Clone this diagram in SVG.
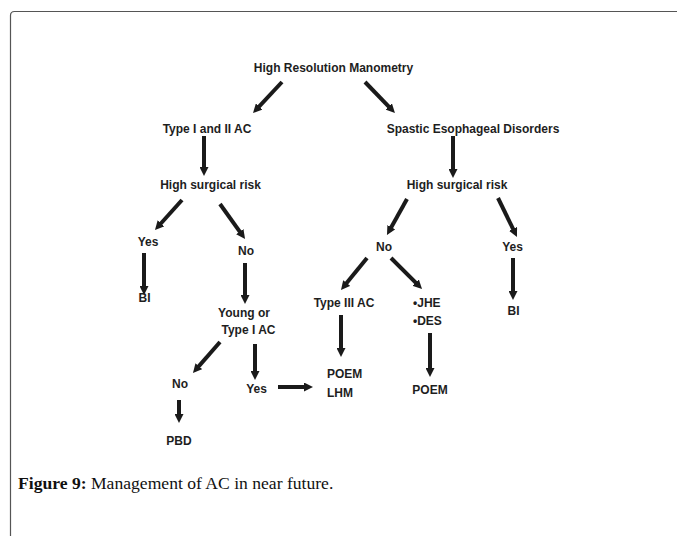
<svg xmlns="http://www.w3.org/2000/svg" width="677" height="536" viewBox="0 0 677 536">
<style>
.t{font-family:"Liberation Sans",Arial,sans-serif;font-weight:bold;font-size:12px;fill:#1e1e1e;text-anchor:middle}
.l{text-anchor:start}
.a{stroke:#1a1a1a;stroke-width:4;fill:none;marker-end:url(#ah)}
.cap{font-family:"Liberation Serif","Times New Roman",serif;font-size:17.6px;fill:#111}
</style>
<defs>
<marker id="ah" viewBox="0 0 10 10" markerWidth="9" markerHeight="9" markerUnits="userSpaceOnUse" refX="4" refY="5" orient="auto">
<path d="M0,0 L10,5 L0,10 z" fill="#1a1a1a"/>
</marker>
</defs>
<rect width="677" height="536" fill="#fff"/>
<path d="M10.5,536 V15.5 Q10.5,11.5 14.5,11.5 H677" fill="none" stroke="#555" stroke-width="1.2"/>
<g id="connectors">
<line class="a" x1="282" y1="82" x2="256.7" y2="109.1"/>
<line class="a" x1="365" y1="82" x2="391.2" y2="109.1"/>
<line class="a" x1="204" y1="136" x2="204" y2="170.6"/>
<line class="a" x1="453" y1="136" x2="453" y2="172.6"/>
<line class="a" x1="182" y1="200" x2="158.6" y2="226"/>
<line class="a" x1="220" y1="204" x2="241.9" y2="234.6"/>
<line class="a" x1="144" y1="253" x2="144" y2="289.6"/>
<line class="a" x1="245" y1="263" x2="245" y2="298.6"/>
<line class="a" x1="220" y1="342" x2="196.5" y2="368.9"/>
<line class="a" x1="255" y1="344" x2="255" y2="374.6"/>
<line class="a" x1="278" y1="387" x2="307.6" y2="387"/>
<line class="a" x1="179" y1="400" x2="179" y2="417.6"/>
<line class="a" x1="407" y1="199" x2="389.6" y2="230.3"/>
<line class="a" x1="498" y1="198" x2="514.6" y2="232.1"/>
<line class="a" x1="367" y1="258" x2="344.4" y2="285.8"/>
<line class="a" x1="391" y1="258" x2="418.2" y2="285.2"/>
<line class="a" x1="341" y1="315" x2="341" y2="351.6"/>
<line class="a" x1="430" y1="333" x2="430" y2="371.6"/>
<line class="a" x1="513" y1="258" x2="513" y2="294.6"/>
</g>
<g id="hrm"><text class="t" x="333.5" y="72">High Resolution Manometry</text></g>
<g id="type12"><text class="t" x="207" y="133">Type I and II AC</text></g>
<g id="spastic"><text class="t" x="473" y="133">Spastic Esophageal Disorders</text></g>
<g id="riskL"><text class="t" x="210.5" y="189">High surgical risk</text></g>
<g id="riskR"><text class="t" x="457" y="189">High surgical risk</text></g>
<g id="yesL"><text class="t" x="148" y="246">Yes</text></g>
<g id="noL"><text class="t" x="246" y="255">No</text></g>
<g id="biL"><text class="t" x="144.5" y="302">BI</text></g>
<g id="young"><text class="t" x="244" y="317">Young or</text><text class="t" x="248.5" y="334">Type I AC</text></g>
<g id="noLow"><text class="t" x="180" y="388">No</text></g>
<g id="yesLow"><text class="t" x="256.5" y="393">Yes</text></g>
<g id="poemLhm"><text class="t l" x="327" y="378">POEM</text><text class="t l" x="327" y="397">LHM</text></g>
<g id="pbd"><text class="t" x="179" y="445">PBD</text></g>
<g id="noR"><text class="t" x="384" y="251">No</text></g>
<g id="yesR"><text class="t" x="512.5" y="251">Yes</text></g>
<g id="type3"><text class="t" x="344" y="307">Type III AC</text></g>
<g id="jhe"><text class="t l" x="413" y="307">•JHE</text><text class="t l" x="413" y="325">•DES</text></g>
<g id="poemR"><text class="t" x="430" y="394">POEM</text></g>
<g id="biR"><text class="t" x="513.5" y="315">BI</text></g>
<text class="cap" x="18" y="489"><tspan font-weight="bold">Figure 9:</tspan> Management of AC in near future.</text>
</svg>
